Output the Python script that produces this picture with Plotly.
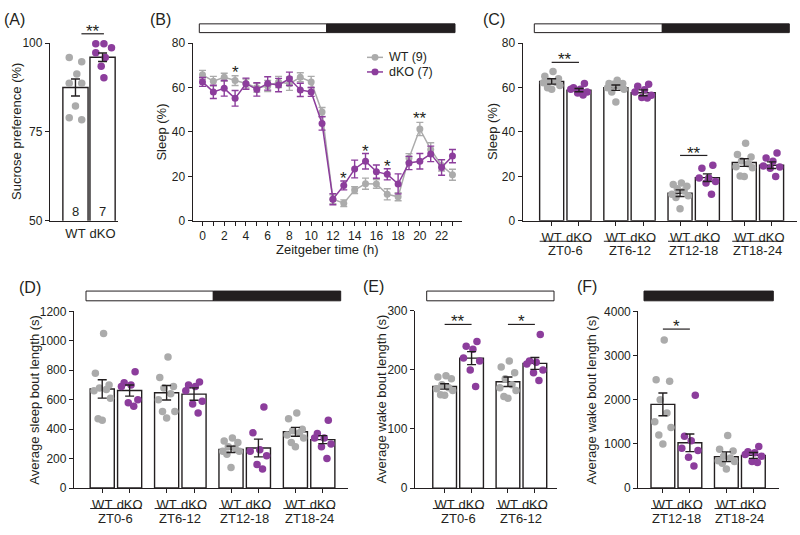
import plotly.graph_objects as go

W, H = 800, 535
FONT = "Arial, 'Liberation Sans', Helvetica, sans-serif"
INK = "#231f20"
GRAY = "#ababab"
PURPLE = "#8c3d9c"

# ---------------- data ----------------
A_labels = ["WT", "dKO"]
A_n = ["8", "7"]
A_mean = [87.5, 96.0]
A_sem = [2.4, 1.2]
A_wt = [95.9, 94.7, 91.3, 88.7, 88.7, 82.3, 79.0, 78.4]
A_dko = [99.8, 99.8, 98.7, 97.3, 95.9, 93.5, 90.2]

B_zt = list(range(24))
B_wt = [65.7, 62.8, 64.6, 63.1, 61.8, 59.9, 60.7, 62.5, 61.7, 64.6, 62.5, 49.0,
        9.7, 7.9, 13.8, 16.7, 16.6, 11.9, 10.8, 28.2, 41.3, 32.1, 24.9, 20.7]
B_wt_sem = [2.0, 2.2, 1.8, 2.2, 2.0, 2.0, 2.5, 2.5, 3.0, 2.0, 2.5, 2.0,
            2.0, 1.5, 1.5, 2.5, 2.0, 2.5, 1.8, 2.0, 3.0, 3.0, 2.5, 2.5]
B_dko = [62.5, 58.0, 59.6, 55.1, 61.7, 59.1, 61.8, 61.1, 63.9, 58.9, 58.0, 43.8,
         9.7, 15.9, 23.3, 26.8, 22.1, 20.9, 16.6, 26.0, 26.8, 30.1, 24.0, 29.1]
B_dko_sem = [2.0, 3.0, 3.5, 3.5, 2.5, 3.0, 3.0, 3.0, 3.0, 3.0, 2.0, 3.0,
             2.5, 2.0, 4.0, 3.5, 3.0, 2.5, 4.5, 3.0, 3.5, 3.5, 3.5, 3.0]
B_xticklabels = ["0", "2", "4", "6", "8", "10", "12", "14", "16", "18", "20", "22"]
B_legend = ["WT (9)", "dKO (7)"]
B_sig_zt = [3, 13, 15, 17, 20]
B_sig_y = [68.5, 20.6, 33.0, 26.2, 47.6]
B_sig_txt = ["*", "*", "*", "*", "**"]

C_periods = ["ZT0-6", "ZT6-12", "ZT12-18", "ZT18-24"]
C_wt_mean = [62.7, 59.9, 12.4, 26.2]
C_wt_sem = [1.2, 1.2, 1.5, 1.7]
C_dko_mean = [58.8, 57.6, 19.4, 25.0]
C_dko_sem = [0.7, 1.3, 1.7, 1.5]
C_wt_pts = [[67.2, 65.0, 63.9, 62.8, 62.4, 62.1, 60.9, 59.9, 59.2],
            [63.3, 61.8, 61.8, 61.4, 60.7, 59.9, 59.2, 58.0, 53.4],
            [17.0, 16.3, 15.5, 14.4, 13.4, 11.9, 11.2, 10.5, 5.4],
            [34.9, 29.8, 28.7, 26.9, 25.7, 24.3, 23.9, 20.2, 19.9]]
C_dko_pts = [[61.8, 59.9, 59.2, 59.2, 58.0, 57.5, 56.6],
             [61.5, 60.5, 59.0, 58.0, 56.5, 55.5, 55.2],
             [25.0, 23.6, 19.2, 19.2, 17.7, 17.0, 11.9],
             [30.5, 28.3, 26.8, 24.6, 24.2, 23.6, 19.9]]

D_periods = ["ZT0-6", "ZT6-12", "ZT12-18", "ZT18-24"]
D_wt_mean = [673, 647, 263, 382]
D_wt_sem = [62, 49, 22, 30]
D_dko_mean = [662, 638, 272, 329]
D_dko_sem = [38, 42, 60, 27]
D_wt_pts = [[1050, 780, 700, 680, 670, 660, 610, 470, 460],
            [890, 750, 690, 680, 640, 600, 520, 520, 475],
            [340, 320, 310, 280, 270, 250, 250, 230, 140],
            [510, 470, 400, 390, 375, 360, 340, 310, 280]]
D_dko_pts = [[790, 715, 700, 690, 600, 580, 555],
             [720, 700, 690, 660, 590, 570, 510],
             [550, 375, 260, 250, 220, 160, 130],
             [460, 370, 340, 340, 300, 280, 200]]

E_periods = ["ZT0-6", "ZT6-12"]
E_wt_mean = [172, 180]
E_wt_sem = [4.5, 8]
E_dko_mean = [220, 211]
E_dko_sem = [11, 10]
E_wt_pts = [[190, 188, 185, 175, 170, 168, 165, 158, 157],
            [215, 205, 195, 185, 175, 170, 165, 155, 152]]
E_dko_pts = [[248, 240, 235, 220, 215, 200, 172],
             [260, 215, 213, 210, 200, 195, 182]]

F_periods = ["ZT12-18", "ZT18-24"]
F_wt_mean = [1894, 709]
F_wt_sem = [256, 110]
F_dko_mean = [1024, 739]
F_dko_sem = [200, 66]
F_wt_pts = [[3350, 2450, 2420, 2000, 1700, 1500, 1370, 1200, 1000],
            [1190, 880, 840, 720, 680, 620, 600, 560, 430]]
F_dko_pts = [[2100, 1170, 1070, 900, 850, 700, 500],
             [940, 820, 800, 760, 720, 600, 580]]

# ---------------- geometry (pixels) ----------------
TOP_T, TOP_B = 37.0, 219.5
PANELS = {
    "A": dict(i=1, x0=50, x1=118, yb=TOP_B, yt=TOP_T, xr=(-0.94, 1.57), yr=(50, 100), dt=25,
              title="Sucrose preference (%)", tx=17),
    "B": dict(i=2, x0=192.7, x1=461.7, yb=TOP_B, yt=TOP_T, xr=(-0.9, 23.85), yr=(0, 80), dt=20,
              title="Sleep (%)", tx=161.7),
    "C": dict(i=3, x0=522.7, x1=796.7, yb=TOP_B, yt=TOP_T, xr=(-1.06, 8.97), yr=(0, 80), dt=20,
              title="Sleep (%)", tx=493),
    "D": dict(i=4, x0=74, x1=348.3, yb=494, yt=312.5, xr=(-1.03, 8.98), yr=(0, 1200), dt=200,
              title="Average sleep bout length (s)", tx=35),
    "E": dict(i=5, x0=415, x1=556.7, yb=494, yt=312, xr=(-1.10, 4.16), yr=(0, 300), dt=100,
              title="Average wake bout length (s)", tx=381),
    "F": dict(i=6, x0=638.3, x1=779.3, yb=494, yt=312.5, xr=(-0.91, 4.31), yr=(0, 4000), dt=1000,
              title="Average wake bout length (s)", tx=591.7),
}
STEP = 2.35
BW = 0.88
J9 = [0.05, -0.25, 0.25, -0.1, 0.15, -0.3, 0.3, -0.15, 0.0]
J7 = [0.2, -0.2, 0.05, -0.3, 0.3, -0.05, 0.15]


def xref(p):
    return "x" if p["i"] == 1 else f"x{p['i']}"


def yref(p):
    return "y" if p["i"] == 1 else f"y{p['i']}"


def px_x(p, x):
    return p["x0"] + (x - p["xr"][0]) / (p["xr"][1] - p["xr"][0]) * (p["x1"] - p["x0"])


def px_y(p, y):
    return p["yb"] - (y - p["yr"][0]) / (p["yr"][1] - p["yr"][0]) * (p["yb"] - p["yt"])


def fx(px):
    return px / W


def fy(py):
    return 1 - py / H


fig = go.Figure()
shapes = []
annots = []


def text(x, y, s, size=13, **kw):
    d = dict(x=fx(x), y=fy(y), xref="paper", yref="paper", text=s, showarrow=False,
             xanchor="center", yanchor="middle",
             font=dict(size=size, color=INK, family=FONT))
    d.update(kw)
    annots.append(d)


def hline(x0, x1, y, width=1.3, color=INK):
    shapes.append(dict(type="line", xref="paper", yref="paper", x0=fx(x0), x1=fx(x1),
                       y0=fy(y), y1=fy(y), line=dict(color=color, width=width)))


def sig(p, xa, xb, yline, s):
    ypx = px_y(p, yline)
    hline(px_x(p, xa), px_x(p, xb), ypx, 1.2)
    text((px_x(p, xa) + px_x(p, xb)) / 2, ypx - 2.5, s, size=17)


def ld_bar(x0, x1, y0, y1, split):
    if split is None or split > x0:
        shapes.append(dict(type="rect", xref="paper", yref="paper", x0=fx(x0),
                           x1=fx(split if split is not None else x1), y0=fy(y1), y1=fy(y0),
                           fillcolor="white", line=dict(color=INK, width=1)))
    if split is not None and split < x1:
        shapes.append(dict(type="rect", xref="paper", yref="paper", x0=fx(split), x1=fx(x1),
                           y0=fy(y1), y1=fy(y0), fillcolor=INK, line=dict(color=INK, width=1)))


def add_points(p, xs, ys, color):
    fig.add_trace(go.Scatter(x=xs, y=ys, mode="markers", xaxis=xref(p), yaxis=yref(p),
                             marker=dict(size=7.5, color=color, line=dict(width=0)),
                             cliponaxis=False, showlegend=False, hoverinfo="skip"))


def add_err(p, xs, ys, es):
    fig.add_trace(go.Scatter(x=xs, y=ys, mode="markers", xaxis=xref(p), yaxis=yref(p),
                             marker=dict(size=2, color="rgba(0,0,0,0)"),
                             error_y=dict(type="data", array=es, color=INK, thickness=1.4, width=4.5),
                             showlegend=False, hoverinfo="skip"))


def bar_panel(key, periods, wt_mean, wt_sem, dko_mean, dko_sem, wt_pts, dko_pts):
    p = PANELS[key]
    pos_wt = [STEP * g for g in range(len(periods))]
    pos_dko = [STEP * g + 1 for g in range(len(periods))]
    fig.add_trace(go.Bar(x=pos_wt + pos_dko, y=wt_mean + dko_mean, width=BW,
                         xaxis=xref(p), yaxis=yref(p), showlegend=False, hoverinfo="skip",
                         marker=dict(color="white", line=dict(color=INK, width=1.4))))
    for g in range(len(periods)):
        add_points(p, [pos_wt[g] + J9[k % 9] for k in range(len(wt_pts[g]))], wt_pts[g], GRAY)
        add_points(p, [pos_dko[g] + J7[k % 7] for k in range(len(dko_pts[g]))], dko_pts[g], PURPLE)
    add_err(p, pos_wt + pos_dko, wt_mean + dko_mean, wt_sem + dko_sem)
    tv = []
    tt = []
    for g in range(len(periods)):
        tv += [pos_wt[g], pos_dko[g]]
        tt += ["WT", "dKO"]
        xl = px_x(p, pos_wt[g] - BW / 2)
        xr_ = px_x(p, pos_dko[g] + BW / 2)
        hline(xl, xr_, p["yb"] + 21, 1.1)
        text((xl + xr_) / 2, p["yb"] + 31, periods[g], size=13)
    return tv, tt


# ---------- Panel A ----------
pA = PANELS["A"]
fig.add_trace(go.Bar(x=[0, 1], y=A_mean, width=0.93, xaxis="x", yaxis="y", showlegend=False,
                     hoverinfo="skip", marker=dict(color="white", line=dict(color=INK, width=1.4))))
A_jw = [-0.23, 0.23, 0.05, -0.23, 0.23, 0.0, -0.23, 0.23]
A_jd = [-0.25, 0.05, 0.33, -0.25, 0.1, -0.05, 0.05]
add_points(pA, [A_jw[k] for k in range(len(A_wt))], A_wt, GRAY)
add_points(pA, [1 + A_jd[k] for k in range(len(A_dko))], A_dko, PURPLE)
add_err(pA, [0, 1], A_mean, A_sem)
for k in range(2):
    text(px_x(pA, k), 210, A_n[k], size=13)
sig(pA, 0.22, 1.05, 102.6, "**")

# ---------- Panel B ----------
pB = PANELS["B"]
for ys, es, col in [(B_wt, B_wt_sem, GRAY), (B_dko, B_dko_sem, PURPLE)]:
    fig.add_trace(go.Scatter(x=B_zt, y=ys, mode="lines+markers",
                             xaxis="x2", yaxis="y2", line=dict(color=col, width=1.5),
                             marker=dict(size=7, color=col),
                             error_y=dict(type="data", array=es, color=col, thickness=1.4, width=3.5),
                             cliponaxis=False, showlegend=False, hoverinfo="skip"))
for zt, yv, s in zip(B_sig_zt, B_sig_y, B_sig_txt):
    text(px_x(pB, zt), px_y(pB, yv) + 4, s, size=17)
text((pB["x0"] + pB["x1"]) / 2, 249.5, "Zeitgeber time (h)", size=13)
# legend (drawn)
for lab, col, ly in zip(B_legend, [GRAY, PURPLE], [51.7, 66.7]):
    hline(367, 383, ly, 1.5, col)
    shapes.append(dict(type="circle", xref="paper", yref="paper", x0=fx(371.5), x1=fx(378.5),
                       y0=fy(ly + 3.5), y1=fy(ly - 3.5), fillcolor=col, line=dict(width=0)))
    text(387, ly, lab, size=12.5, xanchor="left")

# ---------- Panels C-F ----------
ticks = {}
ticks["C"] = bar_panel("C", C_periods, C_wt_mean, C_wt_sem, C_dko_mean, C_dko_sem, C_wt_pts, C_dko_pts)
ticks["D"] = bar_panel("D", D_periods, D_wt_mean, D_wt_sem, D_dko_mean, D_dko_sem, D_wt_pts, D_dko_pts)
ticks["E"] = bar_panel("E", E_periods, E_wt_mean, E_wt_sem, E_dko_mean, E_dko_sem, E_wt_pts, E_dko_pts)
ticks["F"] = bar_panel("F", F_periods, F_wt_mean, F_wt_sem, F_dko_mean, F_dko_sem, F_wt_pts, F_dko_pts)

sig(PANELS["C"], 0, 1, 71.3, "**")
sig(PANELS["C"], 2 * STEP, 2 * STEP + 1, 29.4, "**")
sig(PANELS["E"], 0, 1, 277, "**")
sig(PANELS["E"], STEP, STEP + 1, 277, "*")
sig(PANELS["F"], 0, 1, 3598, "*")

# light/dark bars
ld_bar(199.3, 455, 17.3, 26.3, 326.7)
ld_bar(534.3, 789.3, 17.3, 26.3, 662.3)
ld_bar(86, 340.7, 291.7, 301.7, 213.3)
ld_bar(426.7, 554, 291.7, 301.7, None)
ld_bar(644, 773.3, 291.7, 301.7, 644)

# panel letters
for lab, x, y in [("(A)", 14, 13), ("(B)", 160, 12.5), ("(C)", 494, 12.5),
                  ("(D)", 30, 288), ("(E)", 373, 287), ("(F)", 587, 287)]:
    text(x, y, lab, size=16)

# axes
layout = {}
for key, p in PANELS.items():
    i = p["i"]
    xn = "xaxis" if i == 1 else f"xaxis{i}"
    yn = "yaxis" if i == 1 else f"yaxis{i}"
    common = dict(showline=True, linecolor=INK, linewidth=1.3, ticks="outside", ticklen=4,
                  tickwidth=1.3, tickcolor=INK, showgrid=False, zeroline=False, fixedrange=True,
                  tickfont=dict(size=12, color=INK, family=FONT))
    xd = dict(common, domain=[fx(p["x0"]), fx(p["x1"])], range=list(p["xr"]), anchor=yref(p))
    yd = dict(common, domain=[fy(p["yb"]), fy(p["yt"])], range=list(p["yr"]), anchor=xref(p),
              tickmode="linear", tick0=p["yr"][0], dtick=p["dt"])
    if key == "A":
        xd.update(tickmode="array", tickvals=[0, 1], ticktext=A_labels, ticks="",
                  tickfont=dict(size=13, color=INK, family=FONT))
    elif key == "B":
        xd.update(tickmode="array", tickvals=B_zt,
                  ticktext=[B_xticklabels[z // 2] if z % 2 == 0 else "" for z in B_zt])
    else:
        xd.update(tickmode="array", tickvals=ticks[key][0], ticktext=ticks[key][1],
                  tickfont=dict(size=13, color=INK, family=FONT))
    layout[xn] = xd
    layout[yn] = yd
    annots.append(dict(x=fx(p["tx"]), y=fy((p["yb"] + p["yt"]) / 2), xref="paper", yref="paper",
                       text=p["title"], textangle=-90, showarrow=False,
                       xanchor="center", yanchor="middle",
                       font=dict(size=13, color=INK, family=FONT)))

fig.update_layout(
    width=W, height=H, margin=dict(l=0, r=0, t=0, b=0),
    paper_bgcolor="white", plot_bgcolor="white",
    font=dict(family=FONT, color=INK, size=12),
    barmode="overlay",
    showlegend=False,
    shapes=shapes, annotations=annots,
    **layout,
)

fig.write_html("out.html", config={"displayModeBar": False},
               post_script="document.body.style.margin='0';document.body.style.overflow='hidden';")
